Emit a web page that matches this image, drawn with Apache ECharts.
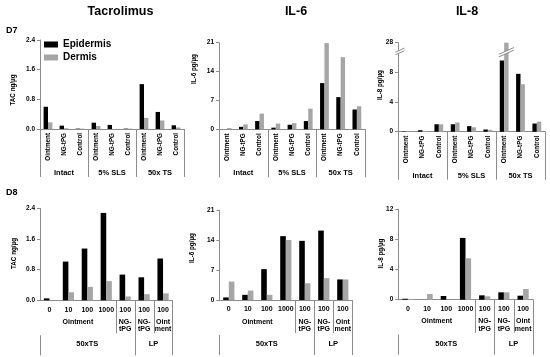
<!DOCTYPE html>
<html><head><meta charset="utf-8">
<script src="https://cdn.jsdelivr.net/npm/echarts@6/dist/echarts.min.js"></script>
<style>html,body{margin:0;padding:0;background:#fff}#c{width:550px;height:357px}</style>
</head><body><div id="c"></div>
<script>
// ---------------- DATA ----------------
const seriesNames = ['Epidermis', 'Dermis'];
const panelTitles = ['Tacrolimus', 'IL-6', 'IL-8'];
const dayLabels = ['D7', 'D8'];
const yNames = ['TAC ng/µg', 'IL-6 pg/µg', 'IL-8 pg/µg'];

const d7Categories = ['Ointment', 'NG-tPG', 'Control', 'Ointment', 'NG-tPG', 'Control', 'Ointment', 'NG-tPG', 'Control'];
const d7Groups = ['Intact', '5% SLS', '50x TS'];
const d7GroupSizes = [3, 3, 3];

const d8Categories = ['0', '10', '100', '1000', '100', '100', '100'];
const d8Formulations = ['Ointment', 'NG-\ntPG', 'NG-\ntPG', 'Oint\nment'];
const d8FormulationSizes = [4, 1, 1, 1];
const d8Models = ['50xTS', 'LP'];
const d8ModelSizes = [5, 2];

const tacTicks = [0, 0.8, 1.6, 2.4];
const il6Ticks = [0, 7, 14, 21];
const il8D7Ticks = [0, 4, 8, 28];
const il8D8Ticks = [0, 4, 8, 12];
const il8Break = [11, 27]; // value range collapsed on the broken D7 IL-8 axis

const tacD7Epi  = [0.60, 0.09, 0.01, 0.17, 0.11, 0.01, 1.21, 0.46, 0.10];
const tacD7Derm = [0.18, 0.02, 0.01, 0.08, 0.00, 0.01, 0.30, 0.23, 0.04];
const il6D7Epi  = [0.0, 0.6, 2.0, 0.4, 1.1, 2.0, 11.2, 7.8, 4.8];
const il6D7Derm = [0.3, 1.2, 3.8, 1.4, 1.5, 5.0, 20.9, 17.5, 5.6];
const il8D7Epi  = [0.05, 0.2, 1.0, 1.0, 0.75, 0.3, 9.6, 7.8, 1.1];
const il8D7Derm = [0.05, 0.1, 1.0, 1.25, 0.6, 0.25, 28, 6.4, 1.35];

const tacD8Epi  = [0.05, 1.01, 1.35, 2.28, 0.67, 0.60, 1.09];
const tacD8Derm = [0.00, 0.21, 0.35, 0.50, 0.10, 0.16, 0.18];
const il6D8Epi  = [0.6, 1.2, 7.2, 14.9, 13.8, 16.2, 4.8];
const il6D8Derm = [4.3, 2.2, 1.2, 14.0, 3.9, 5.1, 4.8];
const il8D8Epi  = [0.13, 0.0, 0.49, 8.2, 0.58, 0.98, 0.53];
const il8D8Derm = [0.10, 0.76, 0.0, 5.5, 0.45, 0.98, 1.42];

// ---------------- LAYOUT / STYLE ----------------
const AX = '#8c8c8c';
const FF = '"Liberation Sans", Arial, sans-serif';
const EPI_C = '#000000';
const DERM_C = '#a6a6a6';

const brkSpan = il8Break[1] - il8Break[0];
const il8ToDisp = v => v <= il8Break[0] ? v : (v >= il8Break[1] ? v - brkSpan : il8Break[0]);
const il8FromDisp = d => d <= il8Break[0] ? d : d + brkSpan;
const ident = v => v;

const grids = [
  {left: 40, top: 40, width: 144, height: 89},
  {left: 219, top: 42.7, width: 146, height: 86.6},
  {left: 398, top: 42.7, width: 147, height: 89},
  {left: 40, top: 208.3, width: 132.5, height: 92},
  {left: 219.3, top: 210, width: 133, height: 90},
  {left: 398.3, top: 209.3, width: 134.4, height: 90.4}
];

const panels = [
  {cats: d7Categories, epi: tacD7Epi, derm: tacD7Derm, ticks: tacTicks, tf: ident, fmt: v => v.toFixed(1), d7: true},
  {cats: d7Categories, epi: il6D7Epi, derm: il6D7Derm, ticks: il6Ticks, tf: ident, fmt: v => String(v), d7: true},
  {cats: d7Categories, epi: il8D7Epi, derm: il8D7Derm, ticks: il8D7Ticks, tf: il8ToDisp, fmt: v => String(il8FromDisp(v)), d7: true, brk: true},
  {cats: d8Categories, epi: tacD8Epi, derm: tacD8Derm, ticks: tacTicks, tf: ident, fmt: v => v.toFixed(1), d7: false},
  {cats: d8Categories, epi: il6D8Epi, derm: il6D8Derm, ticks: il6Ticks, tf: ident, fmt: v => String(v), d7: false},
  {cats: d8Categories, epi: il8D8Epi, derm: il8D8Derm, ticks: il8D8Ticks, tf: ident, fmt: v => String(v), d7: false}
];

const chart = echarts.init(document.getElementById('c'), null, {renderer: 'canvas'});

const option = {
  animation: false,
  backgroundColor: '#fff',
  legend: {
    data: seriesNames, orient: 'vertical', left: 44, top: 39.5, padding: 0,
    itemWidth: 14, itemHeight: 6, itemGap: 3, icon: 'rect',
    textStyle: {fontSize: 10, fontWeight: 'bold', fontFamily: FF, color: '#000'}
  },
  grid: grids.map(g => Object.assign({containLabel: false}, g)),
  xAxis: panels.map((p, i) => ({
    type: 'category', gridIndex: i, data: p.cats,
    axisLine: {lineStyle: {color: AX, width: 1}},
    axisTick: {show: false},
    axisLabel: p.d7
      ? {interval: 0, rotate: 90, margin: 4, fontSize: 6.3, fontWeight: 'bold', fontFamily: FF, color: '#000'}
      : {interval: 0, margin: 6, fontSize: 7, fontWeight: 'bold', fontFamily: FF, color: '#000'},
    splitLine: {show: false}
  })),
  yAxis: panels.map((p, i) => {
    const t = p.ticks.map(p.tf);
    return {
      type: 'value', gridIndex: i, min: t[0], max: t[t.length - 1], interval: t[1] - t[0],
      axisLine: {show: true, lineStyle: {color: AX, width: 1}},
      axisTick: {show: true, length: 3, lineStyle: {color: AX}},
      axisLabel: {margin: 5, fontSize: 6.5, fontWeight: 'bold', fontFamily: FF, color: '#000', formatter: p.fmt},
      splitLine: {show: false}
    };
  }),
  series: []
};
panels.forEach((p, i) => {
  const bw = p.d7 ? 4.4 : 5.6;
  option.series.push({name: seriesNames[0], type: 'bar', xAxisIndex: i, yAxisIndex: i, barWidth: bw, barGap: '0%',
    itemStyle: {color: EPI_C}, data: p.epi.map(p.tf)});
  option.series.push({name: seriesNames[1], type: 'bar', xAxisIndex: i, yAxisIndex: i, barWidth: bw, barGap: '0%',
    itemStyle: {color: DERM_C}, data: p.derm.map(p.tf)});
});
chart.setOption(option);

// ---------------- GRAPHICS (derived from axes) ----------------
const gfx = [];
const px = v => Math.round(v) + 0.5;
function line(x, y1, y2) {
  gfx.push({type: 'line', z: 100, shape: {x1: px(x), y1: y1, x2: px(x), y2: y2}, style: {stroke: AX, lineWidth: 1}});
}
function text(t, x, y, size, opts) {
  gfx.push(Object.assign({type: 'text', z: 100, x: x, y: y,
    style: Object.assign({text: t, fill: '#000', fontSize: size, fontWeight: 'bold', fontFamily: FF,
      align: 'center', verticalAlign: 'middle'}, (opts && opts.style) || {})}, (opts && opts.el) || {}));
}
function breakMark(cx, cy, hw) {
  const s = 0.45, g = 2.6;
  gfx.push({type: 'group', z: 110, children: [
    {type: 'polygon', z: 110, shape: {points: [[cx - hw, cy + hw * s], [cx + hw, cy - hw * s], [cx + hw, cy - hw * s + g], [cx - hw, cy + hw * s + g]]}, style: {fill: '#fff'}},
    {type: 'line', z: 111, shape: {x1: cx - hw, y1: cy + hw * s, x2: cx + hw, y2: cy - hw * s}, style: {stroke: AX, lineWidth: 1}},
    {type: 'line', z: 111, shape: {x1: cx - hw, y1: cy + hw * s + g, x2: cx + hw, y2: cy - hw * s + g}, style: {stroke: AX, lineWidth: 1}}
  ]});
}

panels.forEach((p, i) => {
  const c0 = chart.convertToPixel({xAxisIndex: i}, 0);
  const c1 = chart.convertToPixel({xAxisIndex: i}, 1);
  const bw = c1 - c0;
  const edge = k => c0 - bw / 2 + k * bw;
  const y0 = chart.convertToPixel({yAxisIndex: i}, 0);
  if (p.d7) {
    let k = 0;
    line(edge(0), y0, y0 + 48);
    d7Groups.forEach((g, j) => {
      const a = k, b = k + d7GroupSizes[j];
      line(edge(b), y0, y0 + 48);
      text(g, (edge(a) + edge(b)) / 2, y0 + 44, 7.5);
      k = b;
    });
  } else {
    let k = 0;
    d8Formulations.forEach((g, j) => {
      const a = k, b = k + d8FormulationSizes[j];
      line(edge(b), y0, y0 + 33);
      text(g, (edge(a) + edge(b)) / 2, y0 + 18, 7, {style: {verticalAlign: 'top', lineHeight: 7.5}});
      k = b;
    });
    k = 0;
    line(edge(0), y0 + 35, y0 + 55);
    d8Models.forEach((g, j) => {
      const a = k, b = k + d8ModelSizes[j];
      line(edge(b), y0, y0 + 55);
      text(g, (edge(a) + edge(b)) / 2, y0 + 44, 7.5);
      k = b;
    });
  }
  if (p.brk) {
    const yb = chart.convertToPixel({yAxisIndex: i}, il8Break[0]);
    const xa = grids[i].left;
    breakMark(xa + 2, yb, 4.5);
    p.derm.forEach((v, idx) => {
      if (v >= il8Break[1]) {
        const cx = chart.convertToPixel({xAxisIndex: i}, idx);
        breakMark(cx + 2.2, yb + 0.8, 7.5);
      }
    });
  }
});

const titleX = [120.5, 296, 467];
panelTitles.forEach((t, j) => text(t, titleX[j], 11.5, 12.5));
text(dayLabels[0], 6, 30.7, 9, {style: {align: 'left'}});
text(dayLabels[1], 6, 192.3, 9, {style: {align: 'left'}});
const nameXY = [[13, 90], [194, 69], [380, 85], [14.5, 253.5], [192.5, 248], [381.5, 253.5]];
nameXY.forEach((xy, i) => text(yNames[i % 3], xy[0], xy[1], 6.3, {el: {rotation: Math.PI / 2}}));

chart.setOption({graphic: {elements: gfx}});
</script>
</body></html>
